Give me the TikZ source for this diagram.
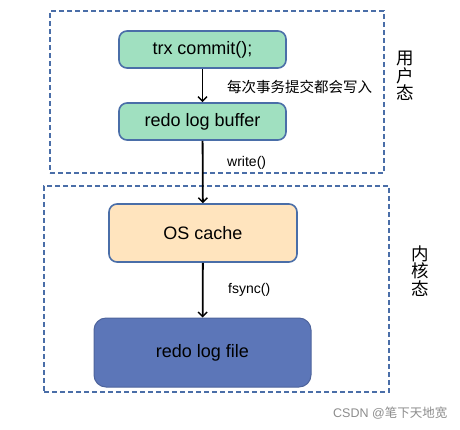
\documentclass[tikz,border=0pt]{standalone}
\usepackage{fontspec}
\setmainfont{Liberation Sans}
\newfontfamily\cjkfont{Noto Sans CJK SC}
\usepackage{xcolor}
\usetikzlibrary{arrows.meta, positioning}
\definecolor{framblue}{RGB}{74,110,168}
\definecolor{bufgreen}{RGB}{160,224,192}
\definecolor{cacheorange}{RGB}{255,228,190}
\definecolor{fileblue}{RGB}{92,118,184}

\begin{document}
\begin{tikzpicture}[
    x=1pt, y=-1pt,
    region/.style={rectangle, draw=framblue, line width=1.4pt, dash pattern=on 5pt off 3pt, inner sep=0pt},
    stage/.style={rectangle, draw=framblue, rounded corners=8pt, line width=1.6pt, inner sep=0pt, align=center, font=\fontsize{18}{20}\selectfont},
    arrow/.style={-{Straight Barb[length=4.5pt, width=9pt, line width=1.4pt]}, line width=1.8pt},
    steplabel/.style={anchor=west, inner sep=0pt, font=\fontsize{14}{16}\selectfont},
    sidelabel/.style={inner sep=0pt, align=center, font=\cjkfont\fontsize{17.5}{17.5}\selectfont}
]
\useasboundingbox (0,0) rectangle (460,429);

% User space
\node[region, minimum width=334pt, minimum height=162pt] (userspace) at (217,92) {};
\node[sidelabel] (userlabel) at (405,76) {用\\户\\态};
\node[stage, fill=bufgreen, minimum width=167pt, minimum height=37pt] (commit) at (202.5,49.5) {trx commit();};
\node[stage, fill=bufgreen, minimum width=167pt, minimum height=37pt] (buffer) at (202.5,121.5) {redo log buffer};

% Kernel space
\node[region, minimum width=345pt, minimum height=206pt] (kernelspace) at (216.5,289) {};
\node[sidelabel] (kernellabel) at (420,271) {内\\核\\态};
\node[stage, fill=cacheorange, minimum width=188pt, minimum height=58pt] (oscache) at (203,233) {OS cache};
\node[stage, fill=fileblue, draw=fileblue!85!black, line width=1pt, rounded corners=12pt, minimum width=217pt, minimum height=69pt] (logfile) at (202.5,352.5) {redo log file};

% Arrows
\draw[arrow] (commit) -- (buffer);
\draw[arrow] (buffer) -- (oscache);
\draw[arrow] (oscache) -- (logfile);

\node[steplabel, font=\cjkfont\fontsize{14.5}{16}\selectfont] (commitlabel) at (227,87) {每次事务提交都会写入};
\node[steplabel] (writelabel) at (227,163) {write()};
\node[steplabel] (fsynclabel) at (228,290) {fsync()};

% watermark
\node[steplabel, text=black!45, font=\fontsize{12.5}{15}\selectfont] (mark) at (333,413) {CSDN @{\cjkfont 笔下天地宽}};
\end{tikzpicture}
\end{document}
